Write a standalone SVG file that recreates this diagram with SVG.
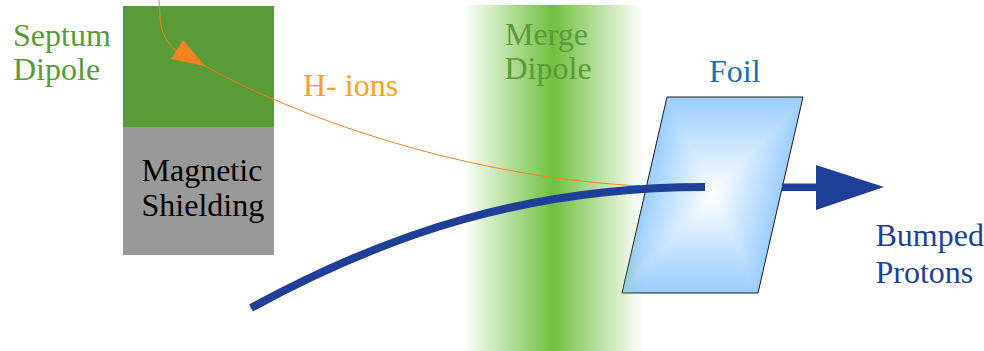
<svg xmlns="http://www.w3.org/2000/svg" width="984" height="351" viewBox="0 0 984 351">
<style>
text{font-family:"Liberation Serif","Times New Roman",serif;font-size:32px}
.g{fill:#5a9a37}.b{fill:#203f96}
</style>
<defs>
<linearGradient id="band" x1="0" x2="1" y1="0" y2="0">
<stop offset="0" stop-color="#70c040" stop-opacity="0"/>
<stop offset="0.5" stop-color="#70c040"/>
<stop offset="1" stop-color="#70c040" stop-opacity="0"/>
</linearGradient>
<linearGradient id="ft" gradientUnits="userSpaceOnUse" x1="0" y1="97" x2="0" y2="195"><stop offset="0" stop-color="#99ccff"/><stop offset="1" stop-color="#fff"/></linearGradient>
<linearGradient id="fb" gradientUnits="userSpaceOnUse" x1="0" y1="293" x2="0" y2="195"><stop offset="0" stop-color="#99ccff"/><stop offset="1" stop-color="#fff"/></linearGradient>
<linearGradient id="fl" gradientUnits="userSpaceOnUse" x1="646" y1="179" x2="712.5" y2="195"><stop offset="0" stop-color="#99ccff"/><stop offset="1" stop-color="#fff"/></linearGradient>
<linearGradient id="fr" gradientUnits="userSpaceOnUse" x1="779" y1="211" x2="712.5" y2="195"><stop offset="0" stop-color="#99ccff"/><stop offset="1" stop-color="#fff"/></linearGradient>
<filter id="soft" filterUnits="userSpaceOnUse" x="580" y="50" width="270" height="290"><feGaussianBlur stdDeviation="3"/></filter>
<clipPath id="foilclip"><polygon points="667,97 803,97 758,293 622,293"/></clipPath>
</defs>
<g id="foil">
<g clip-path="url(#foilclip)"><g filter="url(#soft)">
<polygon points="657.9,77.4 821.1,77.4 712.5,195" fill="url(#ft)"/>
<polygon points="603.9,312.6 767.1,312.6 712.5,195" fill="url(#fb)"/>
<polygon points="657.9,77.4 603.9,312.6 712.5,195" fill="url(#fl)"/>
<polygon points="821.1,77.4 767.1,312.6 712.5,195" fill="url(#fr)"/>
</g></g>
<polygon points="667,97 803,97 758,293 622,293" fill="none" stroke="#1a1a1a" stroke-width="1"/>
<text x="709" y="82" fill="#1a6fae">Foil</text>
</g>
<g id="merge-dipole">
<rect x="463" y="5" width="180" height="346" fill="url(#band)"/>
<text class="g" x="505" y="44.5">Merge</text>
<text class="g" x="504.5" y="78.5">Dipole</text>
</g>
<g id="septum-dipole">
<rect x="123" y="6" width="151" height="121" fill="#5a9a37"/>
<text class="g" x="13" y="45.5">Septum</text>
<text class="g" x="13" y="80">Dipole</text>
</g>
<g id="magnetic-shielding">
<rect x="123" y="127" width="151" height="128" fill="#999"/>
<text x="141.5" y="180.5" fill="#000">Magnetic</text>
<text x="141.5" y="216" fill="#000">Shielding</text>
</g>
<g id="h-ions-label"><text x="303" y="95.5" fill="#ffa020">H- ions</text></g>
<g id="bumped-protons-label">
<text class="b" x="875.5" y="246">Bumped</text>
<text class="b" x="875.5" y="282.5">Protons</text>
</g>
<g id="connectors">
<path d="M159,0 C160,15 160,25 163,33 C170,50 185,58 205,66 C275,105 440,175 640,186" fill="none" stroke="#f58220" stroke-width="1"/>
<polygon points="183,40 171,59 205,66" fill="#f58220"/>
<path d="M251,308 C390,232 530,187 705,187" fill="none" stroke="#203f96" stroke-width="8"/>
<rect x="782" y="183.500" width="36" height="7.500" fill="#203f96"/>
<polygon points="816,165 884,187 816,210" fill="#203f96"/>
</g>
</svg>
